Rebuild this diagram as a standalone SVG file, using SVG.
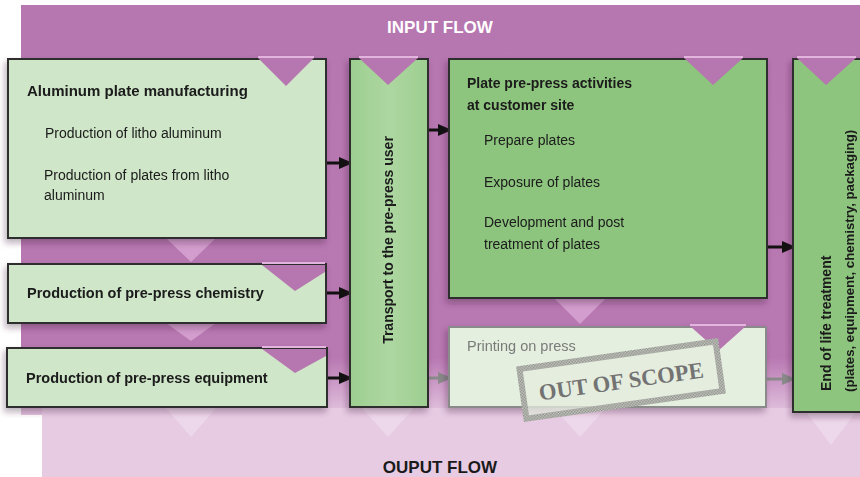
<svg xmlns="http://www.w3.org/2000/svg" width="860" height="477" viewBox="0 0 860 477">
<defs>
  <linearGradient id="bgGrad" x1="0" y1="0" x2="0" y2="1">
    <stop offset="0" stop-color="#b676b0"/>
    <stop offset="0.86" stop-color="#b878b2"/>
    <stop offset="1" stop-color="#e3c5e0"/>
  </linearGradient>
  <linearGradient id="transGrad" x1="0" y1="0" x2="1" y2="0">
    <stop offset="0" stop-color="#9dce90"/>
    <stop offset="0.5" stop-color="#add7a1"/>
    <stop offset="1" stop-color="#9dce90"/>
  </linearGradient>
  <filter id="shadow" x="-10%" y="-10%" width="125%" height="130%">
    <feDropShadow dx="-2" dy="4" stdDeviation="3" flood-color="#3a2038" flood-opacity="0.35"/>
  </filter>
  <pattern id="hatch" width="3" height="3" patternUnits="userSpaceOnUse">
    <rect width="3" height="3" fill="#c9cdc4"/>
    <rect width="1.5" height="1.5" fill="#8a8a86"/>
    <rect x="1.5" y="1.5" width="1.5" height="1.5" fill="#8a8a86"/>
  </pattern>
</defs>
<style>
  .t { font-family: "Liberation Sans", Arial, sans-serif; font-size: 14px; fill: #1a1a1a; }
  .b { font-weight: bold; }
  .light { fill: #cfe6c8; stroke: #2f2f2f; stroke-width: 2; }
  .mid { fill: #8dc47e; stroke: #2f2f2f; stroke-width: 2; }
  .grey { fill: #e4efdf; stroke: #8a8a8a; stroke-width: 2; }
  .notch { fill: #b676b0; }
  .notchline { stroke: #e2b4de; stroke-width: 2; }
  .out { fill: #d9a7d4; opacity: 0.8; }
  .outl { fill: #efd9ec; opacity: 0.8; }
  .ln { stroke: #111; stroke-width: 3; }
  .hd { fill: #111; }
  .lng { stroke: #8a8a8a; stroke-width: 3; }
  .hdg { fill: #8a8a8a; }
</style>

<!-- background flows -->
<g id="background">
  <rect x="21" y="5" width="839" height="410" fill="url(#bgGrad)"/>
  <rect x="42" y="408" width="818" height="69" fill="#e6cbe3"/>
  <text x="440" y="33" text-anchor="middle" class="t b" style="font-size:17px;fill:#ffffff">INPUT FLOW</text>
  <text x="440" y="473" text-anchor="middle" class="t b" style="font-size:17px;fill:#1a1a1a">OUPUT FLOW</text>
  <polygon class="out" points="166,238 216,238 191,262"/>
  <polygon class="out" points="166,323 216,323 191,341"/>
  <polygon class="outl" points="166,408 216,408 191,437"/>
  <polygon class="outl" points="362,408 414,408 388,437"/>
  <polygon class="out" points="554,298 606,298 580,324"/>
  <polygon class="outl" points="554,408 606,408 580,437"/>
  <polygon class="outl" points="806,412 856,412 831,445"/>
</g>

<g id="connectors">
  <line class="ln" x1="327" y1="163" x2="341" y2="163"/><polygon class="hd" points="339,157 353,163 339,169"/>
  <line class="ln" x1="327" y1="293" x2="341" y2="293"/><polygon class="hd" points="339,287 353,293 339,299"/>
  <line class="ln" x1="328" y1="378" x2="341" y2="378"/><polygon class="hd" points="339,372 353,378 339,384"/>
  <line class="ln" x1="428" y1="130" x2="440" y2="130"/><polygon class="hd" points="438,124 452,130 438,136"/>
  <line class="ln" x1="767" y1="247" x2="784" y2="247"/><polygon class="hd" points="782,241 796,247 782,253"/>
  <line class="lng" x1="428" y1="378" x2="440" y2="378"/><polygon class="hdg" points="438,372 452,378 438,384"/>
  <line class="lng" x1="766" y1="379" x2="784" y2="379"/><polygon class="hdg" points="782,373 796,379 782,385"/>
</g>

<g id="n-aluminum" filter="url(#shadow)">
  <rect class="light" x="8" y="59" width="318" height="179"/>
  <polygon class="notch" points="258,58 314,58 286,86"/>
  <line class="notchline" x1="258" y1="57" x2="314" y2="57"/>
  <text class="t b" x="27" y="96" style="font-size:15px">Aluminum plate manufacturing</text>
  <text class="t" x="45" y="138">Production of litho aluminum</text>
  <text class="t" x="44" y="180">Production of plates from litho</text>
  <text class="t" x="44" y="200">aluminum</text>
</g>

<g id="n-chemistry" filter="url(#shadow)">
  <rect class="light" x="8" y="264" width="318" height="59"/>
  <polygon class="notch" points="262,265 325,265 325,272 295,291"/>
  <line class="notchline" x1="262" y1="263" x2="325" y2="263"/>
  <text class="t b" x="27" y="298" style="font-size:14.5px">Production of pre-press chemistry</text>
</g>

<g id="n-equipment" filter="url(#shadow)">
  <rect class="light" x="7" y="348" width="320" height="59"/>
  <polygon class="notch" points="262,349 326,349 326,356 295,373"/>
  <line class="notchline" x1="262" y1="347" x2="326" y2="347"/>
  <text class="t b" x="26" y="383" style="font-size:14.5px">Production of pre-press equipment</text>
</g>

<g id="n-transport" filter="url(#shadow)">
  <rect x="350" y="59" width="78" height="348" fill="url(#transGrad)" stroke="#2f2f2f" stroke-width="2"/>
  <polygon class="notch" points="359,58 418,58 388,85"/>
  <line class="notchline" x1="359" y1="57" x2="418" y2="57"/>
  <text class="t b" transform="translate(393,240) rotate(-90)" text-anchor="middle">Transport to the pre-press user</text>
</g>

<g id="n-platepress" filter="url(#shadow)">
  <rect class="mid" x="449" y="59" width="318" height="239"/>
  <polygon class="notch" points="684,58 743,58 713,85"/>
  <line class="notchline" x1="684" y1="57" x2="743" y2="57"/>
  <text class="t b" x="467" y="88">Plate pre-press activities</text>
  <text class="t b" x="467" y="110">at customer site</text>
  <text class="t" x="484" y="145">Prepare plates</text>
  <text class="t" x="484" y="187">Exposure of plates</text>
  <text class="t" x="484" y="227">Development and post</text>
  <text class="t" x="484" y="249">treatment of plates</text>
</g>

<g id="n-printing" filter="url(#shadow)">
  <rect class="grey" x="449" y="327" width="317" height="80"/>
  <polygon class="notch" points="690,326 746,326 718,351"/>
  <line class="notchline" x1="690" y1="325" x2="746" y2="325"/>
  <text class="t" x="467" y="351" style="font-size:14.5px;fill:#7a7a7a">Printing on press</text>
</g>

<g id="stamp" transform="translate(621,380) rotate(-8)">
  <rect x="-99" y="-25" width="198" height="50" fill="#e6ecdf" fill-opacity="0.75" stroke="url(#hatch)" stroke-width="6"/>
  <text x="0" y="9" text-anchor="middle" textLength="166" lengthAdjust="spacingAndGlyphs" style="font-family:'Liberation Serif','Times New Roman',serif;font-weight:bold;font-size:23px;fill:#737373">OUT OF SCOPE</text>
</g>

<g id="n-endoflife" filter="url(#shadow)">
  <rect class="mid" x="793" y="59" width="75" height="353"/>
  <polygon class="notch" points="797,58 856,58 826,85"/>
  <line class="notchline" x1="797" y1="57" x2="856" y2="57"/>
  <text class="t b" transform="translate(831,391) rotate(-90)" style="font-size:14px">End of life treatment</text>
  <text class="t b" transform="translate(854,392) rotate(-90)" style="font-size:13.2px">(plates, equipment, chemistry, packaging)</text>
</g>
</svg>
